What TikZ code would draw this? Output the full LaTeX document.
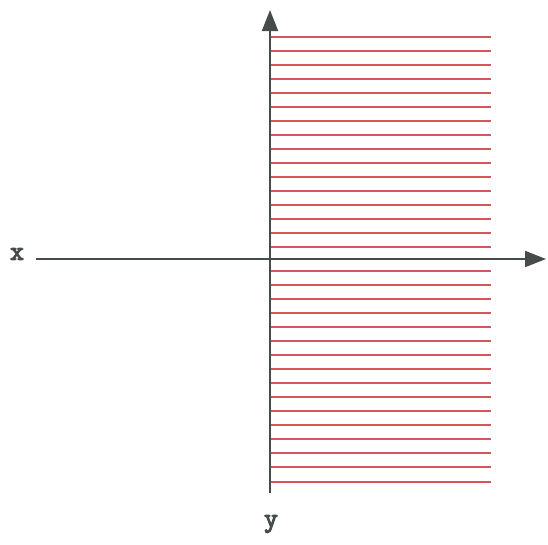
\documentclass[tikz,border=0pt]{standalone}
\usepackage{fontspec}
\setmonofont{Latin Modern Mono}[AutoFakeBold=4]
\usepackage{tikz}
\usepackage{xcolor}
\usetikzlibrary{arrows.meta}
\definecolor{axisgray}{RGB}{70,76,76}
\definecolor{hatchred}{RGB}{214,84,92}

\begin{document}
\begin{tikzpicture}[x=1pt, y=-1pt, >={Triangle[length=21pt,width=16pt]},
    axislabel/.style={axisgray, font=\ttfamily\bfseries\fontsize{27}{27}\selectfont}]
    \useasboundingbox (0,0) rectangle (548,544);
    \coordinate (xstart) at (36,259);
    \coordinate (xend) at (546,259);
    \coordinate (ystart) at (270,493);
    \coordinate (yend) at (270,10);

    \foreach \yy in {37,51,65,79,93,107,121,135,149,163,177,191,205,219,233,247,
                     271,285,299,313,327,341,355,369,383,397,411,425,439,453,467,482} {
        \draw[hatchred, line width=1.5pt] (271,\yy) -- (491,\yy);
    }

    \draw[->, axisgray, line width=2pt] (xstart) -- (xend);
    \draw[->, axisgray, line width=2pt] (ystart) -- (yend);
    \node[axislabel] (xlabel) at (17,254) {x};
    \node[axislabel] (ylabel) at (271,524) {y};
\end{tikzpicture}
\end{document}
